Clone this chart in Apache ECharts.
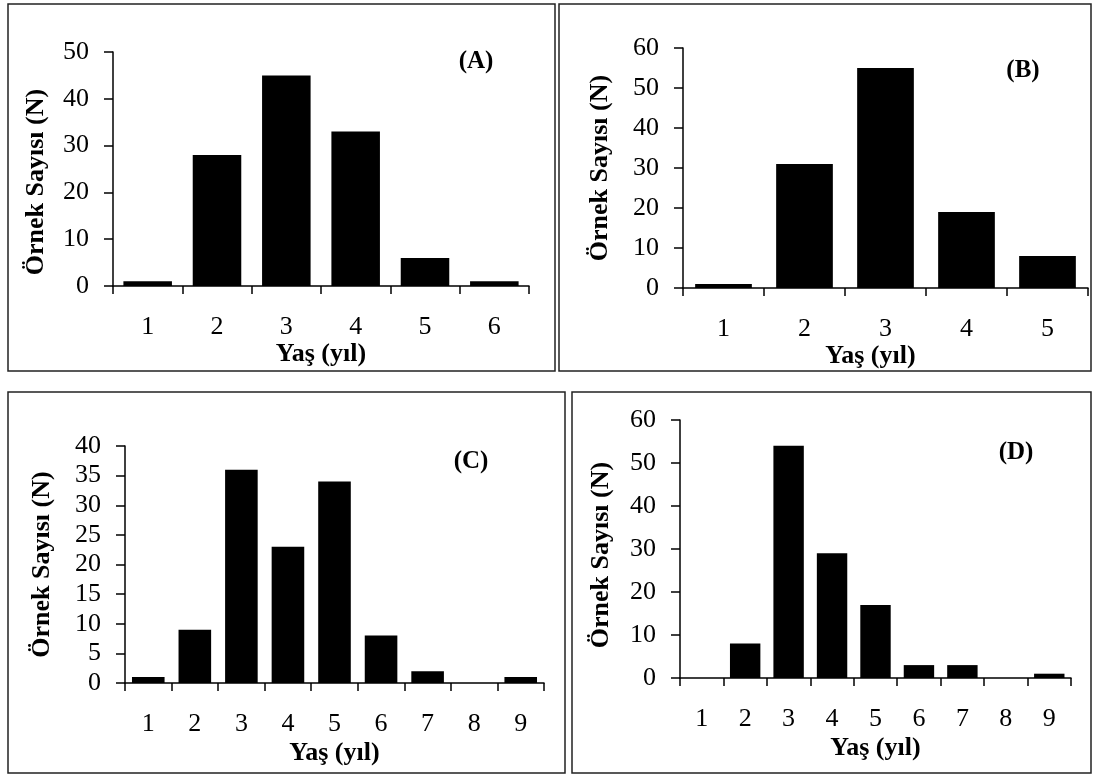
<!DOCTYPE html>
<html>
<head>
<meta charset="utf-8">
<script src="https://cdn.jsdelivr.net/npm/echarts@6/dist/echarts.min.js"></script>
<style>
html,body{margin:0;padding:0;background:#fff;}
#c{width:1093px;height:776px;}
</style>
</head>
<body>
<div id="c"></div>
<script>
// ---- data ----
const catsA = ['1','2','3','4','5','6'];
const valsA = [1, 28, 45, 33, 6, 1];
const catsB = ['1','2','3','4','5'];
const valsB = [1, 31, 55, 19, 8];
const catsC = ['1','2','3','4','5','6','7','8','9'];
const valsC = [1, 9, 36, 23, 34, 8, 2, 0, 1];
const catsD = ['1','2','3','4','5','6','7','8','9'];
const valsD = [0, 8, 54, 29, 17, 3, 3, 0, 1];
const panelLabels = ['(A)', '(B)', '(C)', '(D)'];
const xTitle = 'Yaş (yıl)';
const yTitle = 'Örnek Sayısı (N)';

const FONT = '"Liberation Serif", "Times New Roman", serif';
const chart = echarts.init(document.getElementById('c'));

const grids = [
  {left: 113, top: 52, width: 416, height: 234},
  {left: 683, top: 48, width: 405, height: 240},
  {left: 125, top: 446, width: 419, height: 237},
  {left: 680, top: 420, width: 391, height: 258}
];
const cats = [catsA, catsB, catsC, catsD];
const vals = [valsA, valsB, valsC, valsD];
const yMax = [50, 60, 40, 60];
const yInt = [10, 10, 5, 10];
const xGap = [55, 49, 57, 57];
const yGap = [64, 70, 70, 66];
const xPad = [[0, 0, 0, 0], [0, 30, 0, 0], [0, 0, 0, 0], [0, 0, 0, 0]];
const yPad = [[0, 26, 0, 0], [0, 0, 0, 0], [0, 0, 0, 0], [0, 12, 0, 0]];

const xAxes = [], yAxes = [], series = [];
for (let i = 0; i < 4; i++) {
  xAxes.push({
    type: 'category', gridIndex: i, data: cats[i],
    name: xTitle, nameLocation: 'middle', nameGap: xGap[i],
    nameTextStyle: {fontFamily: FONT, fontSize: 26, fontWeight: 'bold', color: '#000', padding: xPad[i]},
    axisLine: {show: true, lineStyle: {color: '#000', width: 1.5}},
    axisTick: {show: true, length: 8, interval: 0, lineStyle: {color: '#000', width: 1.5}},
    axisLabel: {fontFamily: FONT, fontSize: 26, color: '#000', margin: 28, interval: 0},
    splitLine: {show: false}
  });
  yAxes.push({
    type: 'value', gridIndex: i, min: 0, max: yMax[i], interval: yInt[i],
    name: yTitle, nameLocation: 'middle', nameGap: yGap[i], nameRotate: 90,
    nameTextStyle: {fontFamily: FONT, fontSize: 26, fontWeight: 'bold', color: '#000', padding: yPad[i]},
    axisLine: {show: true, lineStyle: {color: '#000', width: 1.5}},
    axisTick: {show: true, length: 9, lineStyle: {color: '#000', width: 1.5}},
    axisLabel: {fontFamily: FONT, fontSize: 26, color: '#000', margin: 24},
    splitLine: {show: false}
  });
  series.push({
    type: 'bar', xAxisIndex: i, yAxisIndex: i, data: vals[i],
    barCategoryGap: '30%',
    itemStyle: {color: '#000'},
    silent: true
  });
}

const borders = [
  [8, 4, 547, 367],
  [559, 4, 532, 367],
  [8, 392, 557, 381],
  [572, 392, 519, 381]
];
const labelPos = [[476, 62], [1023, 71], [471, 462], [1016, 453]];

const graphic = [];
borders.forEach(b => graphic.push({
  type: 'rect', shape: {x: b[0], y: b[1], width: b[2], height: b[3]},
  style: {fill: 'none', stroke: '#222', lineWidth: 1.5}, silent: true
}));
labelPos.forEach((p, i) => graphic.push({
  type: 'text', x: p[0], y: p[1],
  style: {text: panelLabels[i], fontFamily: FONT, fontSize: 25, fontWeight: 'bold',
          fill: '#000', textAlign: 'center', textVerticalAlign: 'middle'},
  silent: true
}));

chart.setOption({
  animation: false,
  backgroundColor: '#fff',
  grid: grids,
  xAxis: xAxes,
  yAxis: yAxes,
  series: series,
  graphic: graphic
});
</script>
</body>
</html>
